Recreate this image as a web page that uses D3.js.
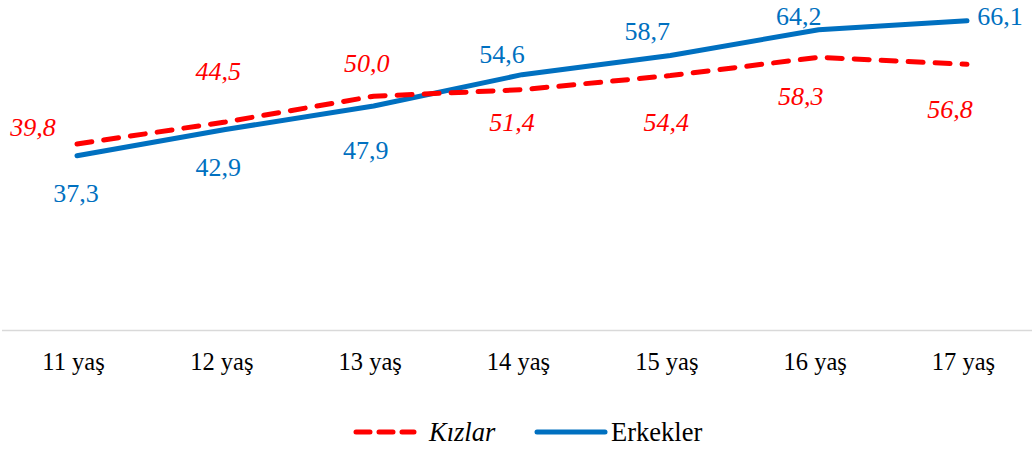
<!DOCTYPE html>
<html><head><meta charset="utf-8">
<script src="https://cdn.jsdelivr.net/npm/d3@7"></script>
<style>body{margin:0;background:#fff}svg{display:block}</style>
</head><body>
<svg id="c" width="1032" height="452"></svg>
<script>
const categories = ["11 yaş","12 yaş","13 yaş","14 yaş","15 yaş","16 yaş","17 yaş"];
const kizlar   = [39.8, 44.5, 50.0, 51.4, 54.4, 58.3, 56.8];
const erkekler = [37.3, 42.9, 47.9, 54.6, 58.7, 64.2, 66.1];
const seriesNames = ["Kızlar", "Erkekler"];
// label nudges (px) relative to each point, for readability
const kizlarNudge   = [[-44,-17],[-7,-50],[-7,-33],[-10,33],[-4,47],[-18,39],[-17,45]];
const erkeklerNudge = [[-1,38],[-7,38],[-8,44],[-20,-20],[-23,-24],[-20,-13],[33,-4]];

const svg = d3.select("#c");
const font = "'Liberation Serif','Times New Roman',serif";
const red = "#FF0000", blue = "#0070C0";

const x = d3.scalePoint().domain(categories).range([77, 967]);
const y = d3.scaleLinear().domain([0, 70]).range([330.5, 2.5]);

// baseline axis
const xAxis = d3.axisBottom(x).tickSize(0).tickPadding(0);
const gx = svg.append("g").attr("transform", "translate(0," + y(0) + ")").call(xAxis);
gx.select(".domain").attr("d", "M2,0H1032").attr("stroke", "#D9D9D9").attr("stroke-width", 1.5);
gx.selectAll(".tick text")
  .attr("font-family", font).attr("font-size", 24.5).attr("fill", "#000")
  .attr("dx", -4).attr("dy", 0).attr("y", 31).attr("dominant-baseline", "central");

const line = d3.line()
  .x((d, i) => x(categories[i]))
  .y(d => y(d));

svg.append("path").datum(erkekler).attr("d", line)
  .attr("fill", "none").attr("stroke", blue).attr("stroke-width", 5)
  .attr("stroke-linecap", "round").attr("stroke-linejoin", "round");

svg.append("path").datum(kizlar).attr("d", line)
  .attr("fill", "none").attr("stroke", red).attr("stroke-width", 5)
  .attr("stroke-dasharray", "15,12")
  .attr("stroke-linecap", "round").attr("stroke-linejoin", "round");

const fmt = v => d3.format(".1f")(v).replace(".", ",");

function labels(data, nudge, color, italic) {
  svg.append("g").selectAll("text").data(data).join("text")
    .attr("x", (d, i) => x(categories[i]) + nudge[i][0])
    .attr("y", (d, i) => y(d) + nudge[i][1])
    .attr("text-anchor", "middle").attr("dominant-baseline", "central")
    .attr("font-family", font).attr("font-size", 26)
    .attr("font-style", italic ? "italic" : "normal")
    .attr("fill", color).text(fmt);
}
labels(kizlar, kizlarNudge, red, true);
labels(erkekler, erkeklerNudge, blue, false);

// legend
const lg = svg.append("g").attr("transform", "translate(0,432)");
lg.append("line").attr("x1", 356).attr("x2", 414).attr("y1", 0).attr("y2", 0)
  .attr("stroke", red).attr("stroke-width", 5).attr("stroke-dasharray", "14,9")
  .attr("stroke-linecap", "round");
lg.append("text").attr("x", 429).attr("y", 0).attr("dominant-baseline", "central")
  .attr("font-family", font).attr("font-size", 26.5).attr("font-style", "italic")
  .attr("fill", "#000").text(seriesNames[0]);
lg.append("line").attr("x1", 537).attr("x2", 605).attr("y1", 0).attr("y2", 0)
  .attr("stroke", blue).attr("stroke-width", 5).attr("stroke-linecap", "round");
lg.append("text").attr("x", 611).attr("y", 0).attr("dominant-baseline", "central")
  .attr("font-family", font).attr("font-size", 26.5)
  .attr("fill", "#000").text(seriesNames[1]);
</script>
</body></html>
